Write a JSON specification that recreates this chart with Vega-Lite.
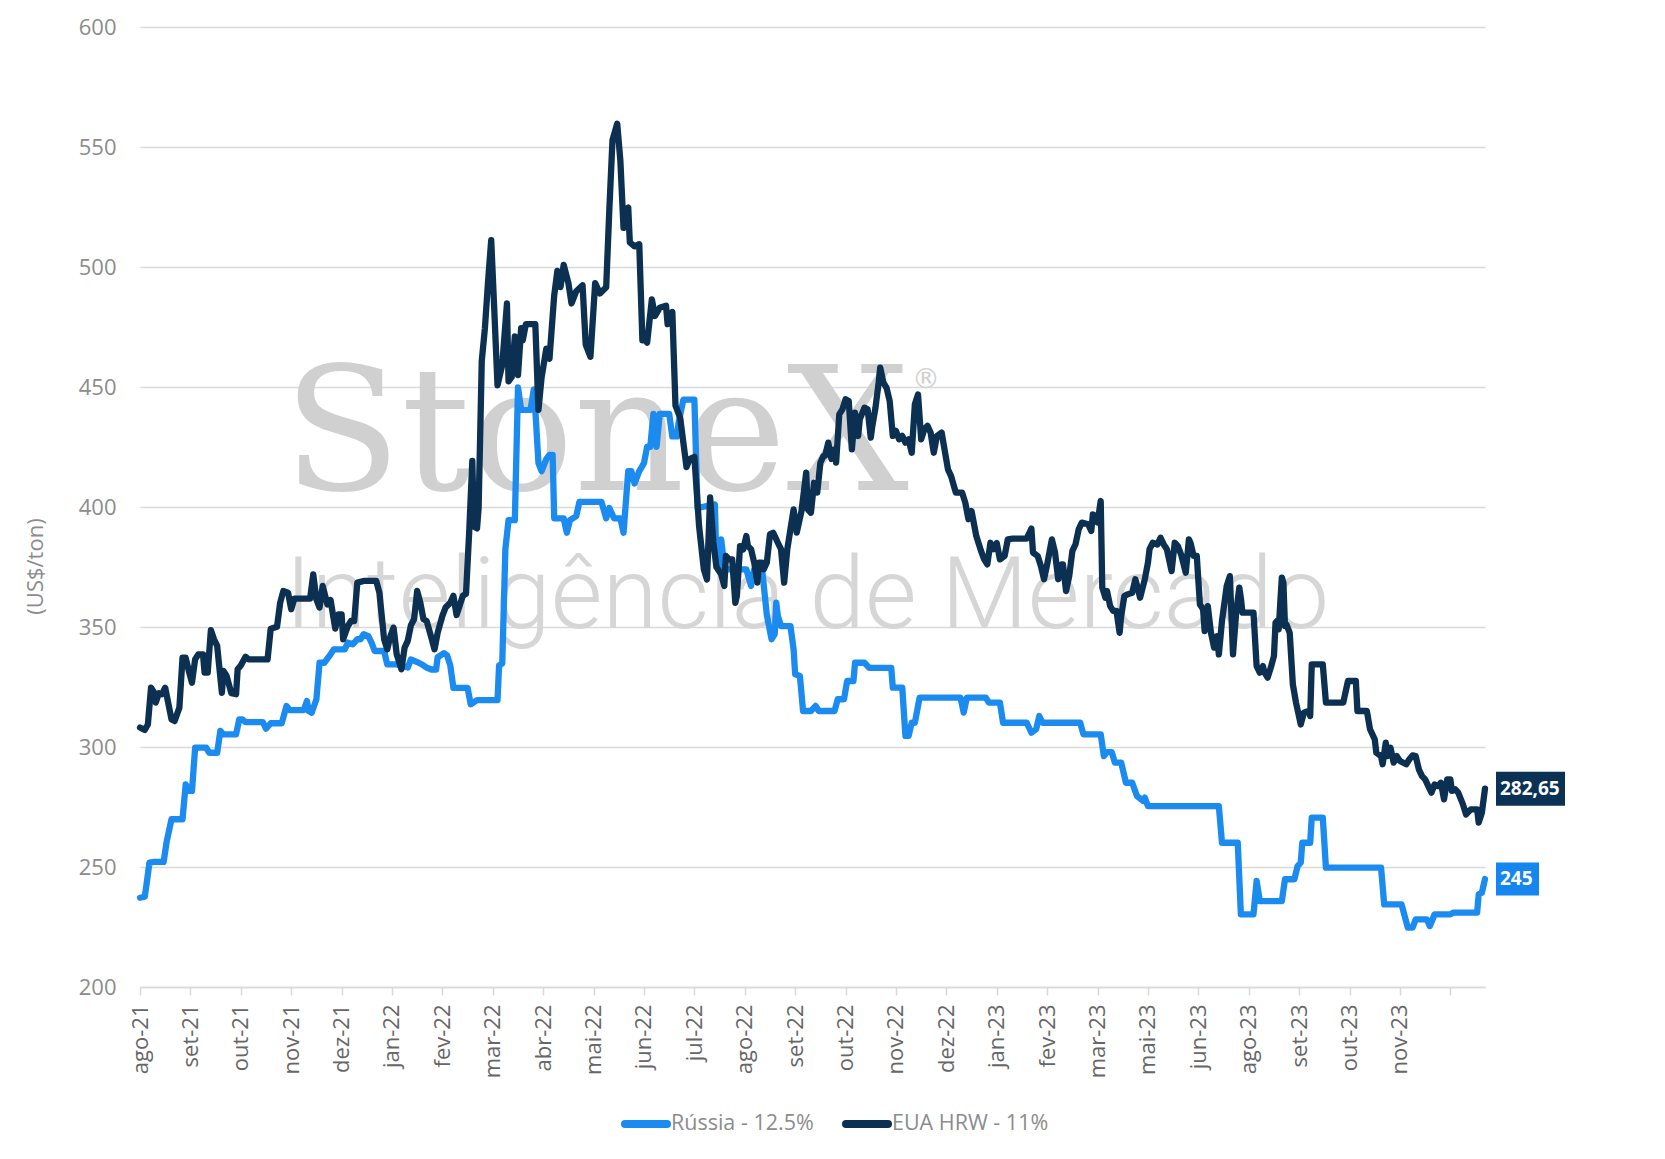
{
  "$schema": "https://vega.github.io/schema/vega-lite/v6.json",
  "width": 1345,
  "height": 960,
  "autosize": {"type": "none"},
  "padding": {"left": 140, "top": 27, "right": 180, "bottom": 172},
  "background": "white",
  "config": {
    "view": {"stroke": null},
    "font": "Open Sans",
    "locale": {"number": {"decimal": ",", "thousands": ".", "grouping": [3], "currency": ["R$", ""]}}
  },
  "datasets": {
    "russia": [
      {"data":"2021-08-02","valor":237.2},{"data":"2021-08-05","valor":237.6},{"data":"2021-08-06","valor":242.1},{"data":"2021-08-08","valor":251.8},{"data":"2021-08-11","valor":252.1},{"data":"2021-08-17","valor":252.1},{"data":"2021-08-19","valor":260.8},{"data":"2021-08-22","valor":269.9},{"data":"2021-08-29","valor":269.9},{"data":"2021-08-31","valor":284.4},
      {"data":"2021-09-02","valor":281.7},{"data":"2021-09-04","valor":281.7},{"data":"2021-09-06","valor":299.7},{"data":"2021-09-13","valor":299.7},{"data":"2021-09-15","valor":297.6},{"data":"2021-09-20","valor":297.6},{"data":"2021-09-22","valor":306.7},{"data":"2021-09-24","valor":305.3},
      {"data":"2021-10-02","valor":305.3},{"data":"2021-10-04","valor":311.5},{"data":"2021-10-06","valor":311.5},{"data":"2021-10-08","valor":310.4},{"data":"2021-10-19","valor":310.4},{"data":"2021-10-21","valor":307.6},{"data":"2021-10-24","valor":309.9},{"data":"2021-10-31","valor":309.9},
      {"data":"2021-11-03","valor":317.1},{"data":"2021-11-05","valor":315.4},{"data":"2021-11-14","valor":315.4},{"data":"2021-11-16","valor":319.2},{"data":"2021-11-17","valor":315.0},{"data":"2021-11-19","valor":314.3},{"data":"2021-11-22","valor":319.9},{"data":"2021-11-24","valor":335.1},{"data":"2021-11-27","valor":335.1},
      {"data":"2021-12-01","valor":338.6},{"data":"2021-12-03","valor":340.7},{"data":"2021-12-10","valor":340.7},{"data":"2021-12-12","valor":343.5},{"data":"2021-12-15","valor":342.8},{"data":"2021-12-18","valor":344.9},{"data":"2021-12-20","valor":344.9},{"data":"2021-12-22","valor":347.0},{"data":"2021-12-25","valor":346.2},{"data":"2021-12-27","valor":343.5},{"data":"2021-12-29","valor":340.0},
      {"data":"2022-01-04","valor":340.0},{"data":"2022-01-06","valor":334.4},{"data":"2022-01-12","valor":334.4},{"data":"2022-01-19","valor":333.1},{"data":"2022-01-21","valor":336.5},{"data":"2022-01-25","valor":335.4},{"data":"2022-01-28","valor":334.4},{"data":"2022-01-31","valor":333.1},
      {"data":"2022-02-03","valor":332.3},{"data":"2022-02-06","valor":332.3},{"data":"2022-02-07","valor":337.4},{"data":"2022-02-11","valor":339.1},{"data":"2022-02-13","valor":338.2},{"data":"2022-02-15","valor":334.0},{"data":"2022-02-17","valor":324.6},{"data":"2022-02-26","valor":324.6},{"data":"2022-02-28","valor":317.8},
      {"data":"2022-03-04","valor":319.5},{"data":"2022-03-17","valor":319.5},{"data":"2022-03-18","valor":334.0},{"data":"2022-03-20","valor":334.8},{"data":"2022-03-22","valor":382.5},{"data":"2022-03-24","valor":394.5},{"data":"2022-03-28","valor":394.5},{"data":"2022-03-30","valor":449.8},
      {"data":"2022-04-01","valor":440.5},{"data":"2022-04-07","valor":440.5},{"data":"2022-04-09","valor":449.0},{"data":"2022-04-10","valor":440.5},{"data":"2022-04-12","valor":418.3},{"data":"2022-04-14","valor":414.9},{"data":"2022-04-17","valor":420.0},{"data":"2022-04-19","valor":421.7},{"data":"2022-04-21","valor":421.7},{"data":"2022-04-22","valor":395.3},{"data":"2022-04-28","valor":395.3},{"data":"2022-04-30","valor":389.3},
      {"data":"2022-05-02","valor":394.5},{"data":"2022-05-06","valor":396.2},{"data":"2022-05-08","valor":402.1},{"data":"2022-05-22","valor":402.1},{"data":"2022-05-25","valor":395.3},{"data":"2022-05-27","valor":399.6},{"data":"2022-05-30","valor":395.3},
      {"data":"2022-06-03","valor":395.3},{"data":"2022-06-05","valor":389.3},{"data":"2022-06-08","valor":414.9},{"data":"2022-06-10","valor":414.9},{"data":"2022-06-12","valor":409.8},{"data":"2022-06-15","valor":414.9},{"data":"2022-06-18","valor":418.3},{"data":"2022-06-20","valor":425.1},{"data":"2022-06-22","valor":425.1},{"data":"2022-06-24","valor":438.8},{"data":"2022-06-26","valor":425.1},{"data":"2022-06-28","valor":438.8},
      {"data":"2022-07-04","valor":438.8},{"data":"2022-07-06","valor":429.4},{"data":"2022-07-09","valor":429.4},{"data":"2022-07-10","valor":435.3},{"data":"2022-07-13","valor":444.7},{"data":"2022-07-20","valor":444.7},{"data":"2022-07-22","valor":399.6},
      {"data":"2022-08-02","valor":401.1},{"data":"2022-08-03","valor":376.8},{"data":"2022-08-05","valor":374.7},{"data":"2022-08-06","valor":386.5},{"data":"2022-08-08","valor":375.4},{"data":"2022-08-10","valor":374.0},{"data":"2022-08-22","valor":374.0},{"data":"2022-08-25","valor":367.1},{"data":"2022-08-27","valor":374.0},
      {"data":"2022-09-01","valor":374.0},{"data":"2022-09-04","valor":355.0},{"data":"2022-09-07","valor":344.9},{"data":"2022-09-09","valor":347.0},{"data":"2022-09-10","valor":360.1},{"data":"2022-09-11","valor":354.6},{"data":"2022-09-13","valor":350.4},{"data":"2022-09-19","valor":350.4},{"data":"2022-09-21","valor":340.7},{"data":"2022-09-22","valor":330.3},{"data":"2022-09-25","valor":329.6},{"data":"2022-09-27","valor":315.0},
      {"data":"2022-10-02","valor":315.0},{"data":"2022-10-05","valor":317.1},{"data":"2022-10-07","valor":315.0},{"data":"2022-10-17","valor":315.0},{"data":"2022-10-19","valor":319.9},{"data":"2022-10-23","valor":319.9},{"data":"2022-10-25","valor":327.5},{"data":"2022-10-29","valor":327.5},{"data":"2022-10-30","valor":335.1},
      {"data":"2022-11-05","valor":335.1},{"data":"2022-11-08","valor":333.0},{"data":"2022-11-22","valor":333.0},{"data":"2022-11-23","valor":324.7},{"data":"2022-11-29","valor":324.7},
      {"data":"2022-12-01","valor":304.6},{"data":"2022-12-03","valor":304.6},{"data":"2022-12-05","valor":310.1},{"data":"2022-12-07","valor":310.1},{"data":"2022-12-10","valor":320.6},
      {"data":"2023-01-05","valor":320.6},{"data":"2023-01-07","valor":314.3},{"data":"2023-01-09","valor":320.6},{"data":"2023-01-21","valor":320.6},{"data":"2023-01-23","valor":318.5},{"data":"2023-01-30","valor":318.5},
      {"data":"2023-02-01","valor":310.1},{"data":"2023-02-16","valor":310.1},{"data":"2023-02-19","valor":306.0},{"data":"2023-02-22","valor":307.4},{"data":"2023-02-24","valor":312.9},{"data":"2023-02-26","valor":310.1},
      {"data":"2023-03-22","valor":310.1},{"data":"2023-03-24","valor":305.3},
      {"data":"2023-04-04","valor":305.3},{"data":"2023-04-06","valor":296.2},{"data":"2023-04-08","valor":297.9},{"data":"2023-04-11","valor":297.9},{"data":"2023-04-13","valor":293.5},{"data":"2023-04-17","valor":293.5},{"data":"2023-04-20","valor":285.1},{"data":"2023-04-24","valor":285.1},{"data":"2023-04-27","valor":279.6},
      {"data":"2023-05-01","valor":277.5},{"data":"2023-05-02","valor":278.9},{"data":"2023-05-04","valor":275.4},
      {"data":"2023-06-18","valor":275.4},{"data":"2023-06-20","valor":260.1},{"data":"2023-06-30","valor":260.1},
      {"data":"2023-07-02","valor":230.3},{"data":"2023-07-10","valor":230.3},{"data":"2023-07-12","valor":244.2},{"data":"2023-07-14","valor":235.8},{"data":"2023-07-28","valor":235.8},{"data":"2023-07-30","valor":244.9},
      {"data":"2023-08-05","valor":244.9},{"data":"2023-08-07","valor":250.4},{"data":"2023-08-09","valor":251.8},{"data":"2023-08-10","valor":260.1},{"data":"2023-08-15","valor":260.1},{"data":"2023-08-16","valor":270.6},{"data":"2023-08-23","valor":270.6},{"data":"2023-08-25","valor":249.7},
      {"data":"2023-09-29","valor":249.7},
      {"data":"2023-10-01","valor":234.4},{"data":"2023-10-12","valor":234.4},{"data":"2023-10-16","valor":224.7},{"data":"2023-10-19","valor":224.7},{"data":"2023-10-21","valor":228.2},{"data":"2023-10-28","valor":228.2},{"data":"2023-10-30","valor":225.4},
      {"data":"2023-11-02","valor":230.3},{"data":"2023-11-12","valor":230.3},{"data":"2023-11-14","valor":231.0},{"data":"2023-11-29","valor":231.0},{"data":"2023-11-30","valor":238.6},
      {"data":"2023-12-02","valor":239.3},{"data":"2023-12-04","valor":245.0}
    ],
    "eua": [
      {"data":"2021-08-02","valor":308.1},{"data":"2021-08-05","valor":307.1},{"data":"2021-08-07","valor":309.4},{"data":"2021-08-09","valor":324.7},{"data":"2021-08-11","valor":322.6},{"data":"2021-08-12","valor":318.5},{"data":"2021-08-14","valor":322.4},{"data":"2021-08-16","valor":322.0},{"data":"2021-08-18","valor":324.7},{"data":"2021-08-22","valor":311.5},{"data":"2021-08-24","valor":310.8},{"data":"2021-08-27","valor":316.4},{"data":"2021-08-29","valor":337.2},{"data":"2021-08-31","valor":337.2},
      {"data":"2021-09-02","valor":331.7},{"data":"2021-09-04","valor":326.8},{"data":"2021-09-06","valor":336.5},{"data":"2021-09-08","valor":338.6},{"data":"2021-09-11","valor":338.6},{"data":"2021-09-12","valor":331.0},{"data":"2021-09-14","valor":331.0},{"data":"2021-09-16","valor":348.7},{"data":"2021-09-18","valor":344.9},{"data":"2021-09-20","valor":342.1},{"data":"2021-09-23","valor":322.6},{"data":"2021-09-24","valor":331.7},{"data":"2021-09-26","valor":329.6},{"data":"2021-09-29","valor":322.4},
      {"data":"2021-10-02","valor":322.0},{"data":"2021-10-03","valor":332.4},{"data":"2021-10-05","valor":334.0},{"data":"2021-10-08","valor":337.6},{"data":"2021-10-10","valor":336.5},{"data":"2021-10-22","valor":336.5},{"data":"2021-10-24","valor":349.3},{"data":"2021-10-26","valor":349.7},{"data":"2021-10-28","valor":350.1},{"data":"2021-10-30","valor":360.1},
      {"data":"2021-11-01","valor":365.0},{"data":"2021-11-04","valor":364.3},{"data":"2021-11-06","valor":357.4},{"data":"2021-11-08","valor":361.8},{"data":"2021-11-18","valor":361.8},{"data":"2021-11-20","valor":371.9},{"data":"2021-11-22","valor":361.5},{"data":"2021-11-24","valor":358.1},{"data":"2021-11-26","valor":367.1},{"data":"2021-11-29","valor":359.4},
      {"data":"2021-12-01","valor":361.2},{"data":"2021-12-04","valor":349.3},{"data":"2021-12-06","valor":355.3},{"data":"2021-12-08","valor":355.3},{"data":"2021-12-09","valor":344.9},{"data":"2021-12-12","valor":350.4},{"data":"2021-12-14","valor":352.5},{"data":"2021-12-16","valor":352.5},{"data":"2021-12-18","valor":368.5},{"data":"2021-12-22","valor":369.2},{"data":"2021-12-30","valor":369.2},
      {"data":"2022-01-01","valor":364.3},{"data":"2022-01-04","valor":344.9},{"data":"2022-01-06","valor":340.7},{"data":"2022-01-08","valor":346.2},{"data":"2022-01-10","valor":349.7},{"data":"2022-01-12","valor":338.6},{"data":"2022-01-15","valor":332.4},{"data":"2022-01-17","valor":341.4},{"data":"2022-01-19","valor":344.2},{"data":"2022-01-21","valor":350.7},{"data":"2022-01-23","valor":353.2},{"data":"2022-01-25","valor":365.0},{"data":"2022-01-27","valor":360.1},{"data":"2022-01-29","valor":353.2},{"data":"2022-01-31","valor":352.5},
      {"data":"2022-02-03","valor":345.6},{"data":"2022-02-05","valor":340.7},{"data":"2022-02-07","valor":347.6},{"data":"2022-02-10","valor":354.6},{"data":"2022-02-12","valor":358.1},{"data":"2022-02-15","valor":360.1},{"data":"2022-02-17","valor":363.0},{"data":"2022-02-19","valor":355.0},{"data":"2022-02-23","valor":363.0},{"data":"2022-02-25","valor":363.8},{"data":"2022-02-27","valor":389.3},
      {"data":"2022-03-01","valor":419.2},{"data":"2022-03-02","valor":391.9},{"data":"2022-03-04","valor":391.1},{"data":"2022-03-05","valor":399.6},{"data":"2022-03-07","valor":460.9},{"data":"2022-03-09","valor":474.5},{"data":"2022-03-11","valor":494.0},{"data":"2022-03-13","valor":511.2},{"data":"2022-03-15","valor":481.3},{"data":"2022-03-17","valor":450.7},{"data":"2022-03-20","valor":459.2},{"data":"2022-03-23","valor":484.8},{"data":"2022-03-24","valor":452.4},{"data":"2022-03-26","valor":454.1},{"data":"2022-03-28","valor":471.1},{"data":"2022-03-30","valor":455.0},
      {"data":"2022-04-01","valor":474.5},{"data":"2022-04-02","valor":469.4},{"data":"2022-04-04","valor":476.2},{"data":"2022-04-10","valor":476.2},{"data":"2022-04-12","valor":440.5},{"data":"2022-04-14","valor":454.1},{"data":"2022-04-17","valor":466.0},{"data":"2022-04-19","valor":461.8},{"data":"2022-04-22","valor":488.2},{"data":"2022-04-24","valor":498.4},{"data":"2022-04-26","valor":491.6},{"data":"2022-04-28","valor":500.9},
      {"data":"2022-05-01","valor":493.3},{"data":"2022-05-03","valor":484.8},{"data":"2022-05-06","valor":489.9},{"data":"2022-05-10","valor":492.4},{"data":"2022-05-12","valor":467.7},{"data":"2022-05-15","valor":462.6},{"data":"2022-05-18","valor":493.3},{"data":"2022-05-21","valor":489.0},{"data":"2022-05-25","valor":491.6},{"data":"2022-05-27","valor":523.9},{"data":"2022-05-29","valor":552.9},
      {"data":"2022-06-01","valor":559.7},{"data":"2022-06-03","valor":544.4},{"data":"2022-06-05","valor":516.3},{"data":"2022-06-06","valor":523.9},{"data":"2022-06-08","valor":524.8},{"data":"2022-06-09","valor":510.3},{"data":"2022-06-12","valor":508.6},{"data":"2022-06-15","valor":509.5},{"data":"2022-06-17","valor":469.4},{"data":"2022-06-19","valor":469.4},{"data":"2022-06-20","valor":468.5},{"data":"2022-06-23","valor":486.5},{"data":"2022-06-25","valor":479.6},{"data":"2022-06-28","valor":483.0},
      {"data":"2022-07-02","valor":483.9},{"data":"2022-07-03","valor":476.2},{"data":"2022-07-06","valor":481.3},{"data":"2022-07-08","valor":442.2},{"data":"2022-07-11","valor":437.1},{"data":"2022-07-13","valor":426.8},{"data":"2022-07-15","valor":416.6},{"data":"2022-07-17","valor":420.0},{"data":"2022-07-20","valor":420.9},{"data":"2022-07-23","valor":391.9},{"data":"2022-07-26","valor":374.0},{"data":"2022-07-28","valor":369.8},{"data":"2022-07-30","valor":404.0},
      {"data":"2022-08-01","valor":385.5},{"data":"2022-08-03","valor":375.0},{"data":"2022-08-06","valor":372.0},{"data":"2022-08-08","valor":367.1},{"data":"2022-08-09","valor":379.6},{"data":"2022-08-11","valor":378.2},{"data":"2022-08-13","valor":378.2},{"data":"2022-08-15","valor":360.1},{"data":"2022-08-16","valor":363.0},{"data":"2022-08-18","valor":383.7},{"data":"2022-08-20","valor":382.3},{"data":"2022-08-22","valor":387.9},{"data":"2022-08-23","valor":383.7},{"data":"2022-08-25","valor":382.4},{"data":"2022-08-27","valor":376.8},{"data":"2022-08-29","valor":368.5},{"data":"2022-08-30","valor":376.8},
      {"data":"2022-09-01","valor":376.8},{"data":"2022-09-02","valor":374.0},{"data":"2022-09-04","valor":376.8},{"data":"2022-09-06","valor":388.6},{"data":"2022-09-08","valor":389.3},{"data":"2022-09-11","valor":385.1},{"data":"2022-09-13","valor":382.4},{"data":"2022-09-15","valor":368.5},{"data":"2022-09-17","valor":382.4},{"data":"2022-09-19","valor":390.7},{"data":"2022-09-21","valor":399.0},{"data":"2022-09-23","valor":389.3},{"data":"2022-09-26","valor":398.3},{"data":"2022-09-29","valor":414.3},{"data":"2022-09-30","valor":399.0},
      {"data":"2022-10-02","valor":397.6},{"data":"2022-10-04","valor":410.1},{"data":"2022-10-06","valor":406.0},{"data":"2022-10-08","valor":418.5},{"data":"2022-10-10","valor":421.3},{"data":"2022-10-11","valor":421.3},{"data":"2022-10-13","valor":426.8},{"data":"2022-10-15","valor":420.0},{"data":"2022-10-17","valor":424.0},{"data":"2022-10-18","valor":418.5},{"data":"2022-10-20","valor":438.6},{"data":"2022-10-22","valor":440.7},{"data":"2022-10-24","valor":444.9},{"data":"2022-10-26","valor":444.2},{"data":"2022-10-28","valor":424.0},{"data":"2022-10-30","valor":439.3},
      {"data":"2022-11-01","valor":429.6},{"data":"2022-11-02","valor":436.5},{"data":"2022-11-05","valor":441.4},{"data":"2022-11-07","valor":440.7},{"data":"2022-11-09","valor":428.9},{"data":"2022-11-10","valor":433.8},{"data":"2022-11-12","valor":441.4},{"data":"2022-11-14","valor":451.8},{"data":"2022-11-15","valor":458.1},{"data":"2022-11-17","valor":451.8},{"data":"2022-11-19","valor":449.7},{"data":"2022-11-21","valor":444.2},{"data":"2022-11-23","valor":429.6},{"data":"2022-11-25","valor":431.7},{"data":"2022-11-27","valor":428.2},{"data":"2022-11-29","valor":429.6},
      {"data":"2022-12-01","valor":426.8},{"data":"2022-12-03","valor":428.2},{"data":"2022-12-05","valor":422.6},{"data":"2022-12-07","valor":442.8},{"data":"2022-12-09","valor":446.9},{"data":"2022-12-11","valor":428.2},{"data":"2022-12-13","valor":432.4},{"data":"2022-12-15","valor":433.8},{"data":"2022-12-17","valor":431.0},{"data":"2022-12-19","valor":422.6},{"data":"2022-12-21","valor":429.6},{"data":"2022-12-24","valor":431.0},{"data":"2022-12-28","valor":415.7},{"data":"2022-12-30","valor":412.9},
      {"data":"2023-01-02","valor":406.0},{"data":"2023-01-06","valor":406.0},{"data":"2023-01-08","valor":401.8},{"data":"2023-01-10","valor":394.9},{"data":"2023-01-12","valor":398.3},{"data":"2023-01-15","valor":387.9},{"data":"2023-01-18","valor":381.7},{"data":"2023-01-20","valor":378.2},{"data":"2023-01-22","valor":376.1},{"data":"2023-01-24","valor":385.1},{"data":"2023-01-26","valor":382.4},{"data":"2023-01-28","valor":385.0},{"data":"2023-01-30","valor":378.2},
      {"data":"2023-02-02","valor":379.6},{"data":"2023-02-04","valor":386.5},{"data":"2023-02-07","valor":386.8},{"data":"2023-02-16","valor":386.8},{"data":"2023-02-19","valor":391.0},{"data":"2023-02-20","valor":381.0},{"data":"2023-02-23","valor":379.6},{"data":"2023-02-25","valor":375.4},{"data":"2023-02-27","valor":369.9},
      {"data":"2023-03-01","valor":376.1},{"data":"2023-03-04","valor":386.5},{"data":"2023-03-06","valor":381.0},{"data":"2023-03-08","valor":369.9},{"data":"2023-03-10","valor":376.1},{"data":"2023-03-11","valor":376.1},{"data":"2023-03-13","valor":365.0},{"data":"2023-03-15","valor":371.2},{"data":"2023-03-17","valor":381.7},{"data":"2023-03-19","valor":384.4},{"data":"2023-03-21","valor":390.7},{"data":"2023-03-23","valor":393.5},{"data":"2023-03-27","valor":392.8},{"data":"2023-03-29","valor":390.0},{"data":"2023-03-30","valor":396.9},
      {"data":"2023-04-01","valor":396.2},{"data":"2023-04-02","valor":393.5},{"data":"2023-04-04","valor":402.5},{"data":"2023-04-05","valor":366.4},{"data":"2023-04-07","valor":362.2},{"data":"2023-04-08","valor":365.0},{"data":"2023-04-10","valor":358.7},{"data":"2023-04-12","valor":356.7},{"data":"2023-04-14","valor":356.7},{"data":"2023-04-16","valor":347.6},{"data":"2023-04-17","valor":354.6},{"data":"2023-04-19","valor":362.9},{"data":"2023-04-21","valor":363.6},{"data":"2023-04-24","valor":364.3},{"data":"2023-04-26","valor":369.9},{"data":"2023-04-28","valor":365.0},{"data":"2023-04-29","valor":362.2},
      {"data":"2023-05-02","valor":369.9},{"data":"2023-05-04","valor":376.8},{"data":"2023-05-05","valor":382.4},{"data":"2023-05-07","valor":385.1},{"data":"2023-05-10","valor":384.4},{"data":"2023-05-12","valor":387.2},{"data":"2023-05-14","valor":384.4},{"data":"2023-05-16","valor":382.4},{"data":"2023-05-19","valor":373.3},{"data":"2023-05-21","valor":385.1},{"data":"2023-05-23","valor":383.7},{"data":"2023-05-25","valor":380.3},{"data":"2023-05-28","valor":372.6},{"data":"2023-05-30","valor":386.5},{"data":"2023-05-31","valor":385.1},
      {"data":"2023-06-02","valor":379.6},{"data":"2023-06-04","valor":379.6},{"data":"2023-06-06","valor":359.4},{"data":"2023-06-08","valor":357.4},{"data":"2023-06-09","valor":348.3},{"data":"2023-06-11","valor":358.7},{"data":"2023-06-13","valor":347.6},{"data":"2023-06-15","valor":341.4},{"data":"2023-06-17","valor":346.2},{"data":"2023-06-18","valor":338.6},{"data":"2023-06-20","valor":352.5},{"data":"2023-06-23","valor":367.1},{"data":"2023-06-25","valor":371.2},{"data":"2023-06-27","valor":338.6},{"data":"2023-06-29","valor":356.0},
      {"data":"2023-07-01","valor":366.4},{"data":"2023-07-02","valor":362.0},{"data":"2023-07-03","valor":356.0},{"data":"2023-07-10","valor":356.0},{"data":"2023-07-12","valor":333.7},{"data":"2023-07-14","valor":331.0},{"data":"2023-07-16","valor":333.7},{"data":"2023-07-17","valor":331.0},{"data":"2023-07-19","valor":328.9},{"data":"2023-07-21","valor":333.1},{"data":"2023-07-23","valor":337.9},{"data":"2023-07-24","valor":351.8},{"data":"2023-07-25","valor":352.5},{"data":"2023-07-26","valor":349.0},{"data":"2023-07-28","valor":370.6},{"data":"2023-07-29","valor":368.5},{"data":"2023-07-30","valor":350.4},{"data":"2023-07-31","valor":351.0},
      {"data":"2023-08-02","valor":347.6},{"data":"2023-08-04","valor":326.1},{"data":"2023-08-06","valor":318.5},{"data":"2023-08-09","valor":309.4},{"data":"2023-08-11","valor":314.3},{"data":"2023-08-14","valor":315.0},{"data":"2023-08-15","valor":312.9},{"data":"2023-08-16","valor":334.4},{"data":"2023-08-23","valor":334.4},{"data":"2023-08-25","valor":318.5},
      {"data":"2023-09-05","valor":318.5},{"data":"2023-09-08","valor":327.5},{"data":"2023-09-13","valor":327.5},{"data":"2023-09-14","valor":315.0},{"data":"2023-09-20","valor":315.0},{"data":"2023-09-22","valor":307.4},{"data":"2023-09-25","valor":303.2},{"data":"2023-09-26","valor":297.6},{"data":"2023-09-29","valor":296.2},{"data":"2023-09-30","valor":292.8},
      {"data":"2023-10-02","valor":301.8},{"data":"2023-10-03","valor":296.2},{"data":"2023-10-05","valor":299.7},{"data":"2023-10-07","valor":293.5},{"data":"2023-10-09","valor":296.2},{"data":"2023-10-11","valor":294.2},{"data":"2023-10-15","valor":292.8},{"data":"2023-10-17","valor":294.9},{"data":"2023-10-19","valor":296.5},{"data":"2023-10-21","valor":296.2},{"data":"2023-10-23","valor":290.7},{"data":"2023-10-25","valor":287.9},{"data":"2023-10-27","valor":286.5},{"data":"2023-10-29","valor":283.7},{"data":"2023-10-31","valor":281.0},
      {"data":"2023-11-02","valor":284.4},{"data":"2023-11-04","valor":283.7},{"data":"2023-11-06","valor":285.1},{"data":"2023-11-08","valor":278.2},{"data":"2023-11-10","valor":286.5},{"data":"2023-11-12","valor":286.5},{"data":"2023-11-13","valor":281.7},{"data":"2023-11-15","valor":282.4},{"data":"2023-11-17","valor":281.0},{"data":"2023-11-20","valor":276.1},{"data":"2023-11-22","valor":271.9},{"data":"2023-11-25","valor":274.0},{"data":"2023-11-29","valor":274.0},{"data":"2023-11-30","valor":268.5},
      {"data":"2023-12-02","valor":272.6},{"data":"2023-12-04","valor":282.65}
    ],
    "finais": [
      {"data":"2023-12-04","serie":"EUA","valor":282.65},
      {"data":"2023-12-04","serie":"Rússia","valor":245}
    ]
  },
  "layer": [
    {
      "data": {"values": [{}]},
      "mark": {"type": "text", "text": "StoneX", "font": "DejaVu Serif", "fontSize": 172, "color": "#d0d0d0", "align": "left", "baseline": "alphabetic"},
      "encoding": {
        "x": {"datum": {"year": 2021, "month": 11, "date": 1, "utc": true}, "type": "temporal"},
        "y": {"datum": 407, "type": "quantitative"}
      }
    },
    {
      "data": {"values": [{}]},
      "mark": {"type": "text", "text": "®", "font": "DejaVu Sans", "fontSize": 28, "color": "#d0d0d0", "align": "center", "baseline": "middle"},
      "encoding": {
        "x": {"datum": {"year": 2022, "month": 12, "date": 14, "utc": true}, "type": "temporal"},
        "y": {"datum": 453, "type": "quantitative"}
      }
    },
    {
      "data": {"values": [{}]},
      "mark": {"type": "text", "text": "Inteligência de Mercado", "font": "Roboto", "fontWeight": 300, "fontSize": 100, "color": "#d6d6d6", "align": "left", "baseline": "alphabetic"},
      "encoding": {
        "x": {"datum": {"year": 2021, "month": 11, "date": 2, "utc": true}, "type": "temporal"},
        "y": {"datum": 349.6, "type": "quantitative"}
      }
    },
    {
      "data": {"name": "russia"},
      "mark": {"type": "line", "strokeWidth": 6.3, "strokeJoin": "round", "strokeCap": "round"},
      "encoding": {
        "x": {
          "field": "data", "type": "temporal",
          "scale": {"domain": [{"year": 2021, "month": 8, "date": 2, "utc": true}, {"year": 2023, "month": 12, "date": 4, "utc": true}]},
          "axis": {
            "title": null, "grid": false,
            "values": [
              {"year":2021,"month":8,"date":2,"utc":true},{"year":2021,"month":9,"date":3,"utc":true},{"year":2021,"month":10,"date":5,"utc":true},{"year":2021,"month":11,"date":6,"utc":true},{"year":2021,"month":12,"date":8,"utc":true},
              {"year":2022,"month":1,"date":9,"utc":true},{"year":2022,"month":2,"date":10,"utc":true},{"year":2022,"month":3,"date":14,"utc":true},{"year":2022,"month":4,"date":15,"utc":true},{"year":2022,"month":5,"date":17,"utc":true},{"year":2022,"month":6,"date":18,"utc":true},{"year":2022,"month":7,"date":20,"utc":true},{"year":2022,"month":8,"date":21,"utc":true},{"year":2022,"month":9,"date":22,"utc":true},{"year":2022,"month":10,"date":24,"utc":true},{"year":2022,"month":11,"date":25,"utc":true},{"year":2022,"month":12,"date":27,"utc":true},
              {"year":2023,"month":1,"date":28,"utc":true},{"year":2023,"month":3,"date":1,"utc":true},{"year":2023,"month":4,"date":2,"utc":true},{"year":2023,"month":5,"date":4,"utc":true},{"year":2023,"month":6,"date":5,"utc":true},{"year":2023,"month":7,"date":7,"utc":true},{"year":2023,"month":8,"date":8,"utc":true},{"year":2023,"month":9,"date":9,"utc":true},{"year":2023,"month":10,"date":11,"utc":true},{"year":2023,"month":11,"date":12,"utc":true}
            ],
            "labelExpr": "['ago-21','set-21','out-21','nov-21','dez-21','jan-22','fev-22','mar-22','abr-22','mai-22','jun-22','jul-22','ago-22','set-22','out-22','nov-22','dez-22','jan-23','fev-23','mar-23','mai-23','jun-23','ago-23','set-23','out-23','nov-23',''][round((datum.value - 1627862400000) / 2764800000)]",
            "labelAngle": 270, "labelFont": "Open Sans", "labelFontSize": 22, "labelColor": "#666666", "labelPadding": 9,
            "labelOverlap": false, "labelBound": false, "labelFlush": false,
            "domain": true, "domainColor": "#d9d9d9", "domainWidth": 1.5,
            "ticks": true, "tickColor": "#d9d9d9", "tickWidth": 1.5, "tickSize": 8
          }
        },
        "y": {
          "field": "valor", "type": "quantitative",
          "scale": {"domain": [200, 600], "nice": false, "zero": false},
          "axis": {
            "values": [200, 250, 300, 350, 400, 450, 500, 550, 600],
            "title": "(US$/ton)", "titleFont": "Open Sans", "titleFontSize": 22, "titleFontWeight": "normal", "titleColor": "#8c8c8c",
            "titleX": -105, "titleY": 539, "titleAlign": "center", "titleBaseline": "middle", "titleAngle": 270,
            "domain": false, "ticks": false, "tickSize": 0,
            "grid": true, "gridColor": "#d9d9d9", "gridWidth": 1.3,
            "labelFont": "Open Sans", "labelFontSize": 22, "labelColor": "#8c8c8c", "labelPadding": 24
          }
        },
        "color": {
          "datum": "Rússia - 12.5%", "type": "nominal",
          "scale": {"domain": ["Rússia - 12.5%", "EUA HRW - 11%"], "range": ["#1B8BF0", "#0C3052"]},
          "legend": {
            "orient": "none", "legendX": 481, "legendY": 1072, "direction": "horizontal", "title": null,
            "symbolType": "stroke", "symbolSize": 1764, "symbolStrokeWidth": 8,
            "labelFont": "Open Sans", "labelFontSize": 21.5, "labelColor": "#8c8c8c", "labelOffset": 0, "labelLimit": 400,
            "columnPadding": 16, "padding": 0,
            "encode": {"symbols": {"update": {"strokeCap": {"value": "round"}}}}
          }
        }
      }
    },
    {
      "data": {"name": "eua"},
      "mark": {"type": "line", "strokeWidth": 6.3, "strokeJoin": "round", "strokeCap": "round"},
      "encoding": {
        "x": {"field": "data", "type": "temporal"},
        "y": {"field": "valor", "type": "quantitative"},
        "color": {"datum": "EUA HRW - 11%", "type": "nominal"}
      }
    },
    {
      "data": {"name": "finais"},
      "transform": [{"filter": "datum.serie == 'EUA'"}],
      "mark": {"type": "point", "shape": "M0.275,-0.425H2V0.425H0.275Z", "size": 6400, "filled": true, "color": "#0B3154", "opacity": 1, "strokeWidth": 0},
      "encoding": {
        "x": {"field": "data", "type": "temporal"},
        "y": {"field": "valor", "type": "quantitative"}
      }
    },
    {
      "data": {"name": "finais"},
      "transform": [{"filter": "datum.serie == 'Rússia'"}],
      "mark": {"type": "point", "shape": "M0.275,-0.41H1.35V0.41H0.275Z", "size": 6400, "filled": true, "color": "#1585F0", "opacity": 1, "strokeWidth": 0},
      "encoding": {
        "x": {"field": "data", "type": "temporal"},
        "y": {"field": "valor", "type": "quantitative"}
      }
    },
    {
      "data": {"name": "finais"},
      "mark": {"type": "text", "align": "left", "baseline": "middle", "dx": 15, "font": "Open Sans", "fontSize": 19, "fontWeight": "bold", "color": "white"},
      "encoding": {
        "x": {"field": "data", "type": "temporal"},
        "y": {"field": "valor", "type": "quantitative"},
        "text": {"field": "valor", "type": "quantitative", "format": "~f"}
      }
    }
  ]
}
